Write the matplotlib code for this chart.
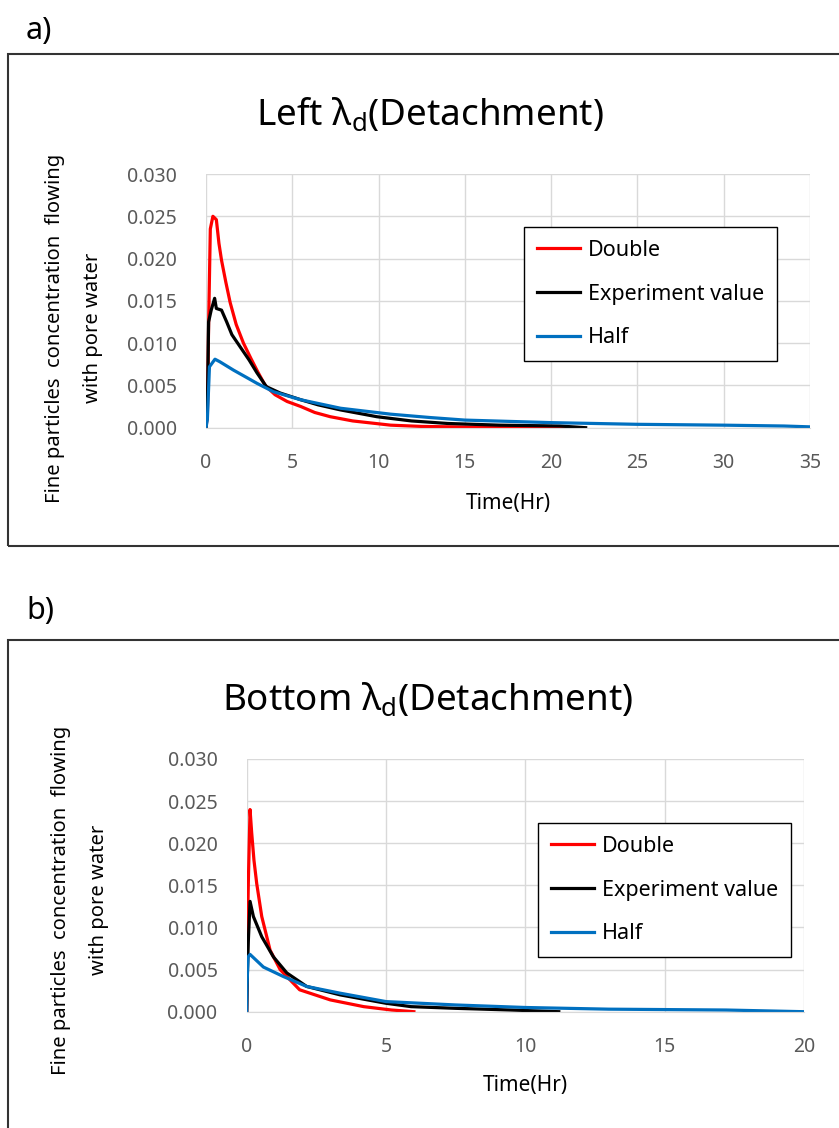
import matplotlib
matplotlib.use("Agg")
import matplotlib.pyplot as plt
from matplotlib.patches import Rectangle

plt.rcParams["font.family"] = ["Noto Sans", "DejaVu Sans"]
plt.rcParams["mathtext.fontset"] = "custom"
plt.rcParams["mathtext.rm"] = "Noto Sans"
plt.rcParams["mathtext.it"] = "Noto Sans"

# ---- panel a: left detachment ----
a_double_t = [0, 0.08, 0.15, 0.25, 0.4, 0.6, 0.75, 0.9, 1.15, 1.4, 1.75, 2.17, 2.6, 3.0,
              3.43, 4.0, 4.7, 5.5, 6.3, 7.2, 8.5, 10.7, 12.5, 15, 18, 21]
a_double_c = [0, 0.0015, 0.012, 0.0235, 0.0250, 0.0246, 0.0218, 0.0198, 0.0172, 0.0148,
              0.0122, 0.0100, 0.0082, 0.0066, 0.0050, 0.0039, 0.0031, 0.0025, 0.0018,
              0.0013, 0.0008, 0.0003, 0.00015, 0.00008, 0.00003, 0]
a_exp_t = [0, 0.08, 0.15, 0.3, 0.5, 0.6, 0.9, 1.2, 1.5, 2.0, 2.5, 2.95, 3.5, 4.3, 5.5,
           6.5, 7.8, 9.9, 11.9, 14, 17, 20.5, 22]
a_exp_c = [0, 0.002, 0.0125, 0.0139, 0.0153, 0.0141, 0.0139, 0.0125, 0.0110, 0.0095,
           0.0080, 0.0065, 0.00485, 0.0041, 0.0033, 0.0027, 0.0021, 0.0013, 0.0008,
           0.0005, 0.0003, 0.0002, 0]
a_half_t = [0, 0.08, 0.2, 0.52, 0.8, 1.6, 2.3, 2.95, 3.9, 5.5, 7.8, 10.7, 13, 15, 20,
            25, 30, 33.5, 35]
a_half_c = [0, 0.001, 0.0072, 0.0081, 0.0078, 0.0068, 0.0060, 0.00525, 0.00426, 0.0033,
            0.0023, 0.0016, 0.0012, 0.0009, 0.0006, 0.0004, 0.0003, 0.0002, 0.0001]

# ---- panel b: bottom detachment ----
b_double_t = [0, 0.02, 0.06, 0.12, 0.18, 0.26, 0.36, 0.54, 0.84, 1.2, 1.9, 3.0, 4.2, 5.2, 6.0]
b_double_c = [0, 0.008, 0.0155, 0.0240, 0.0212, 0.0180, 0.0152, 0.0113, 0.0073, 0.0050,
              0.0026, 0.0014, 0.0006, 0.0002, 0]
b_exp_t = [0, 0.02, 0.06, 0.12, 0.24, 0.54, 0.96, 1.44, 2.15, 3.35, 5.0, 5.9, 7.5, 9.5, 11.2]
b_exp_c = [0, 0.004, 0.0085, 0.0131, 0.0113, 0.0089, 0.0065, 0.0046, 0.0030, 0.0020,
           0.0010, 0.0006, 0.0004, 0.0002, 0]
b_half_t = [0, 0.01, 0.05, 0.12, 0.6, 1.3, 2.15, 3.35, 5.0, 7.5, 10, 13, 17.2, 20]
b_half_c = [0, 0.003, 0.0065, 0.0068, 0.0053, 0.0042, 0.0030, 0.0022, 0.0012, 0.0008,
            0.0005, 0.0003, 0.0002, 0]

y_ticks = [0.000, 0.005, 0.010, 0.015, 0.020, 0.025, 0.030]
series_names = ["Double", "Experiment value", "Half"]
series_colors = ["#ff0000", "#000000", "#0070c0"]

W, H = 839, 1128
fig = plt.figure(figsize=(W / 100, H / 100), dpi=100)


def fx(px):
    return px / W


def fy(py):
    return 1 - py / H


# outer frames and panel letters
for top, bottom, letter, ly in [(54, 546, "a)", 31), (640, 1140, "b)", 611)]:
    fig.patches.append(Rectangle((fx(8), fy(bottom)), fx(900 - 8), fy(top) - fy(bottom),
                                 transform=fig.transFigure, fill=False,
                                 edgecolor="#333333", linewidth=1.5))
    fig.text(fx(26), fy(ly), letter, fontsize=22, va="center", ha="left")


def panel(rect, xmax, xstep, series, title, title_xy, ylab_x, ylab_y, xlab_y, leg_xy):
    ax = fig.add_axes(rect)
    for (t, c), name, col in zip(series, series_names, series_colors):
        ax.plot(t, c, color=col, linewidth=2.3, label=name)
    ax.set_xlim(0, xmax)
    ax.set_ylim(0, 0.030)
    ax.set_xticks(list(range(0, xmax + 1, xstep)))
    ax.set_yticks(y_ticks)
    ax.set_yticklabels([f"{v:.3f}" for v in y_ticks])
    ax.grid(True, color="#d9d9d9", linewidth=1.0)
    ax.set_axisbelow(True)
    for s in ["top", "right", "left"]:
        ax.spines[s].set_visible(False)
    ax.spines["bottom"].set_color("#d9d9d9")
    ax.tick_params(length=0, labelsize=14, labelcolor="#595959")
    ax.tick_params(axis="y", pad=21)
    ax.tick_params(axis="x", pad=18)

    fig.text(fx(title_xy[0]), fy(title_xy[1]), title, fontsize=26.5, ha="center", va="center")
    fig.text(fx(ylab_x), fy(ylab_y), "Fine particles  concentration  flowing\nwith pore water",
             rotation=90, fontsize=14.5, ha="center", va="center", linespacing=2.15)
    fig.text(fx(rect[0] * W + rect[2] * W / 2), fy(xlab_y), "Time(Hr)", fontsize=15,
             ha="center", va="center")
    leg = ax.legend(loc="upper left", bbox_to_anchor=(fx(leg_xy[0]), fy(leg_xy[1])),
                    bbox_transform=fig.transFigure, borderaxespad=0, fancybox=False,
                    framealpha=1, edgecolor="black", fontsize=15.5, handlelength=2.0,
                    labelspacing=1.05, borderpad=0.6, handletextpad=0.35)
    leg.get_frame().set_linewidth(1.0)
    return ax


panel([fx(206), fy(427.7), fx(810 - 206), fy(174) - fy(427.7)], 35, 5,
      [(a_double_t, a_double_c), (a_exp_t, a_exp_c), (a_half_t, a_half_c)],
      r"Left λ$_{\mathrm{d}}$(Detachment)", (430, 115), 74, 328, 503, (524, 227))

panel([fx(246.7), fy(1011.7), fx(804 - 246.7), fy(759) - fy(1011.7)], 20, 5,
      [(b_double_t, b_double_c), (b_exp_t, b_exp_c), (b_half_t, b_half_c)],
      r"Bottom λ$_{\mathrm{d}}$(Detachment)", (428, 700), 80, 900, 1085, (538, 823))

fig.savefig("out.png", dpi=100)
